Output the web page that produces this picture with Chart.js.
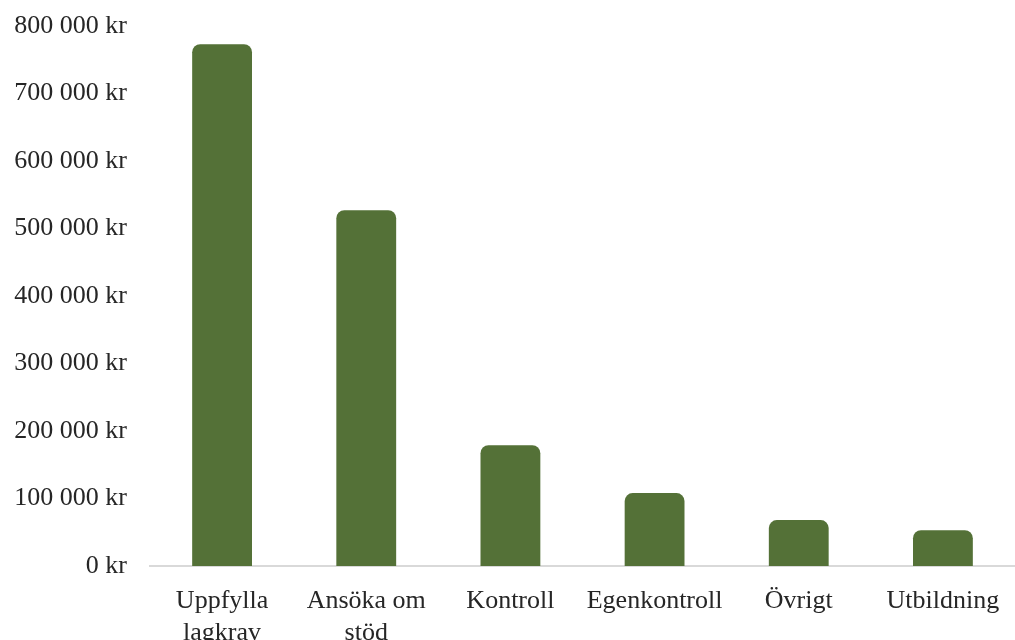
<!DOCTYPE html>
<html>
<head>
<meta charset="utf-8">
<style>
  html, body { margin: 0; padding: 0; background: #fff; }
  #wrap { width: 1015px; height: 640px; }
</style>
<script src="https://cdn.jsdelivr.net/npm/chart.js"></script>
</head>
<body>
<div id="wrap"><canvas id="barChart" width="1015" height="640"></canvas></div>
<script>
  // Kategorier och värden (kr)
  const categories = [['Uppfylla', 'lagkrav'], ['Ansöka om', 'stöd'], 'Kontroll', 'Egenkontroll', 'Övrigt', 'Utbildning'];
  const values = [773000, 527000, 179000, 108000, 68000, 53000];
  const tickStep = 100000;
  const tickMax = 800000;

  function formatKr(v) {
    return String(v).replace(/\B(?=(\d{3})+(?!\d))/g, ' ') + ' kr';
  }

  const ctx = document.getElementById('barChart').getContext('2d');
  new Chart(ctx, {
    type: 'bar',
    data: {
      labels: categories,
      datasets: [{
        data: values,
        backgroundColor: '#547137',
        borderRadius: { topLeft: 8, topRight: 8 },
        borderSkipped: 'start',
        categoryPercentage: 1,
        barPercentage: 0.415
      }]
    },
    options: {
      responsive: false,
      animation: false,
      layout: { padding: { top: 26, right: 0, left: 0, bottom: 0 } },
      plugins: {
        legend: { display: false },
        tooltip: { enabled: false }
      },
      scales: {
        x: {
          grid: { display: false },
          border: { display: true, color: '#d9d9d9', width: 2 },
          ticks: {
            color: '#262626',
            padding: 12,
            maxRotation: 0,
            autoSkip: false,
            font: { family: 'Liberation Serif', size: 26 }
          },
          afterFit: (s) => { s.height = 74; }
        },
        y: {
          min: 0,
          max: tickMax,
          grid: { display: false },
          border: { display: false },
          ticks: {
            stepSize: tickStep,
            color: '#262626',
            padding: 15,
            font: { family: 'Liberation Serif', size: 26 },
            callback: (v) => formatKr(v)
          },
          afterFit: (s) => { s.width = 150; s.paddingTop = 0; s.paddingBottom = 0; }
        }
      }
    }
  });
</script>
</body>
</html>
